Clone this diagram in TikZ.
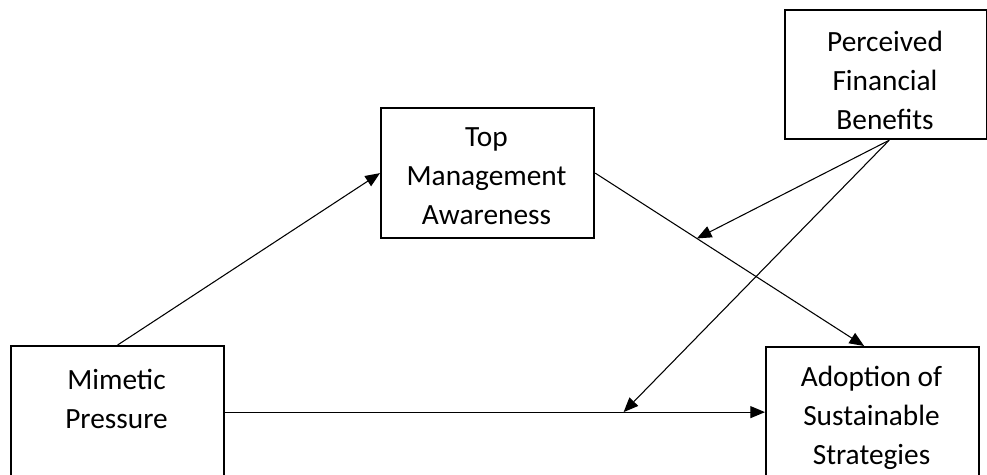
\documentclass[tikz,border=0pt]{standalone}
\usepackage{fontspec}
\setmainfont{Carlito}
\usetikzlibrary{arrows.meta}

\tikzset{
  box/.style={draw, line width=1.7pt, inner sep=0pt, anchor=north west},
  boxtext/.style={anchor=north, align=center, inner sep=0pt, font=\fontsize{22}{29.25}\selectfont},
  arr/.style={line width=0.8pt, -{Triangle[length=11pt,width=9pt]}}
}

\begin{document}
\begin{tikzpicture}[x=0.75pt,y=0.75pt,yscale=-1,xscale=1]
\useasboundingbox (0,0) rectangle (987,474);
\clip (0,0) rectangle (987,474);

%Boxes
\node[box, minimum width=159.75pt, minimum height=99pt] (mp) at (10,345) {};
\node[box, minimum width=159.75pt, minimum height=97.5pt] (tma) at (380,107) {};
\node[box, minimum width=151.5pt, minimum height=96.75pt] (pfb) at (784,9) {};
\node[box, minimum width=159.75pt, minimum height=97.5pt] (ass) at (765,346) {};

% Text Node
\node[boxtext] (mptext) at (116.5,369) {Mimetic\\Pressure};
% Text Node
\node[boxtext] (tmatext) at (486.5,127) {Top\\Management\\Awareness};
% Text Node
\node[boxtext] (pfbtext) at (885,31) {Perceived\\Financial\\Benefits};
% Text Node
\node[boxtext] (asstext) at (871.5,366) {Adoption of\\Sustainable\\Strategies};

%Straight Lines
\draw[arr] (mp.north) -- (tma.west);
\draw[arr] (mp.east) -- coordinate[pos=0.738] (m2) (ass.west);
\draw[arr] (tma.east) -- coordinate[pos=0.378] (m1) ([xshift=-6.4pt]ass.north);
%Moderating Lines
\coordinate (pfbout) at ([xshift=2.25pt]pfb.south);
\draw[arr] (pfbout) -- (m1);
\draw[arr] (pfbout) -- (m2);

\end{tikzpicture}
\end{document}
